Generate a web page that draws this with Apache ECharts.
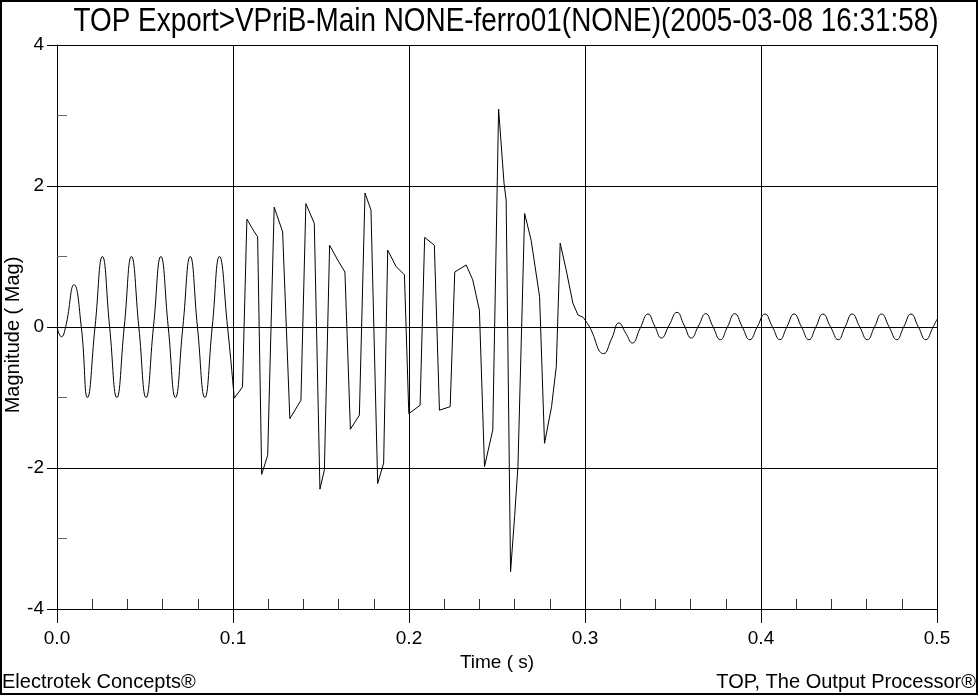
<!DOCTYPE html>
<html>
<head>
<meta charset="utf-8">
<script src="https://cdn.jsdelivr.net/npm/echarts@6/dist/echarts.min.js"></script>
<style>
  html, body { margin: 0; padding: 0; background: #fff; }
  #chart { width: 978px; height: 695px; }
</style>
</head>
<body>
<div id="chart"></div>
<script>
// steady sinusoid before the event
var startTime = [0, 0.0025, 0.0049, 0.0097, 0.0138, 0.0173, 0.0216, 0.0258, 0.0299, 0.034, 0.0382, 0.0423, 0.0465,
  0.0506, 0.0548, 0.059, 0.0632, 0.0673, 0.0715, 0.0757, 0.0798, 0.084, 0.0882, 0.0923, 0.0969, 0.1007];
var startMag = [0, -0.14, 0.0, 0.60, 0.0, -1.0, 0.0, 1.0, 0.0, -1.0, 0.0, 1.0, 0.0,
  -1.0, 0.0, 1.0, 0.0, -1.0, 0.0, 1.0, 0.0, -1.0, 0.0, 1.0, 0.0, -1.01];

// ferroresonance part
var ferroTime = [0.1007, 0.1054, 0.1079, 0.1121, 0.1140, 0.1163, 0.1197, 0.1234, 0.1282, 0.1323, 0.1386, 0.1414,
  0.1462, 0.1494, 0.1519, 0.1549, 0.1595, 0.1636, 0.1667, 0.1718, 0.1750, 0.1784, 0.1822, 0.1856, 0.1879, 0.1926,
  0.1974, 0.1999, 0.2063, 0.2089, 0.2144, 0.2173, 0.2234, 0.2260, 0.2325, 0.2362, 0.2400, 0.2429, 0.2476, 0.2509,
  0.2540, 0.2552, 0.2577, 0.2600, 0.2619, 0.2657, 0.2694, 0.2742, 0.2770, 0.2810, 0.2837, 0.2859, 0.2893, 0.2931,
  0.2960, 0.2988];
var ferroMag = [-1.01, -0.85, 1.53, 1.35, 1.28, -2.09, -1.82, 1.70, 1.35, -1.30, -1.04, 1.75,
  1.47, -2.30, -2.03, 1.16, 0.95, 0.78, -1.45, -1.25, 1.90, 1.66, -2.22, -1.93, 1.09, 0.86,
  0.74, -1.23, -1.11, 1.27, 1.16, -1.18, -1.13, 0.78, 0.88, 0.67, 0.24, -1.98, -1.46, 3.09,
  2.04, 1.80, -3.47, -2.69, -1.98, 1.61, 1.23, 0.43, -1.65, -1.13, -0.56, 1.19, 0.81, 0.34,
  0.17, 0.14];

// decaying tail after the event
var tailTime = [0.2988, 0.3026, 0.3106, 0.3152, 0.3193, 0.3231, 0.3269, 0.3313, 0.3358, 0.3396, 0.3434, 0.3478,
  0.3523, 0.3563, 0.3604, 0.3645, 0.3686, 0.3727, 0.3769, 0.381, 0.3851, 0.3893, 0.3936, 0.3979, 0.4022, 0.4065,
  0.4107, 0.4147, 0.4188, 0.423, 0.4272, 0.4312, 0.4352, 0.4395, 0.4439, 0.4478, 0.4518, 0.4561, 0.4604, 0.4645,
  0.4685, 0.4728, 0.4771, 0.4811, 0.4852, 0.4894, 0.4936, 0.4978, 0.5];
var tailMag = [0.14, 0.0, -0.378, -0.16, 0.057, -0.085, -0.227, -0.02, 0.184, 0.014, -0.156, 0.026,
  0.208, 0.026, -0.156, 0.016, 0.189, 0.005, -0.18, 0.005, 0.189, 0.005, -0.18, 0.002, 0.184, 0.002,
  -0.18, 0.002, 0.184, 0.002, -0.18, 0.002, 0.184, 0.002, -0.18, 0.002, 0.184, 0.002, -0.18, 0.002,
  0.184, 0.002, -0.18, 0.002, 0.184, 0.002, -0.18, 0.002, 0.11];

var titleText = 'TOP Export>VPriB-Main NONE-ferro01(NONE)(2005-03-08 16:31:58)';
var xName = 'Time ( s)';
var yName = 'Magnitude ( Mag)';

function pairs(t, v) {
  var out = [];
  for (var i = 0; i < t.length; i++) out.push([t[i], v[i]]);
  return out;
}

var FONT = '"Liberation Sans", Arial, sans-serif';

var chart = echarts.init(document.getElementById('chart'), null, {renderer: 'canvas'});

var lineSeries = function (data, smooth) {
  return {
    type: 'line',
    data: data,
    showSymbol: false,
    smooth: smooth,
    silent: true,
    lineStyle: {color: '#000', width: 1},
    itemStyle: {color: '#000'}
  };
};

chart.setOption({
  backgroundColor: '#fff',
  animation: false,
  grid: {left: 57, right: 41, top: 45, bottom: 86, outerBoundsMode: 'none'},
  xAxis: [{
    type: 'value',
    min: 0, max: 0.5, interval: 0.1,
    name: xName, nameLocation: 'middle', nameGap: 44,
    nameTextStyle: {color: '#000', fontSize: 19, fontFamily: FONT},
    axisLine: {onZero: false, lineStyle: {color: '#000', width: 1}},
    axisTick: {show: true, length: 14, lineStyle: {color: '#000'}},
    axisLabel: {color: '#000', fontSize: 19, fontFamily: FONT, margin: 20,
      formatter: function (v) { return v.toFixed(1); }},
    splitLine: {show: true, lineStyle: {color: '#000', width: 1}}
  }, {
    type: 'value', position: 'bottom',
    min: 0, max: 0.5, interval: 0.1,
    axisLine: {show: false, onZero: false},
    axisLabel: {show: false},
    splitLine: {show: false},
    axisTick: {show: false, inside: true},
    minorTick: {show: true, splitNumber: 5, length: 10, lineStyle: {color: '#333'}}
  }],
  yAxis: [{
    type: 'value',
    min: -4, max: 4, interval: 2,
    axisLine: {onZero: false, lineStyle: {color: '#000', width: 1}},
    axisTick: {show: true, length: 10, lineStyle: {color: '#000'}},
    axisLabel: {color: '#000', fontSize: 19, fontFamily: FONT, margin: 13},
    splitLine: {show: true, lineStyle: {color: '#000', width: 1}}
  }, {
    type: 'value', position: 'left',
    min: -4, max: 4, interval: 2,
    axisLine: {show: false, onZero: false},
    axisLabel: {show: false},
    splitLine: {show: false},
    axisTick: {show: false, inside: true},
    minorTick: {show: true, splitNumber: 2, length: 10, lineStyle: {color: '#666'}}
  }],
  series: [
    lineSeries(pairs(startTime, startMag), 0.5),
    lineSeries(pairs(ferroTime, ferroMag), false),
    lineSeries(pairs(tailTime, tailMag), 0.5)
  ],
  graphic: [{
    type: 'rect',
    shape: {x: 1, y: 1, width: 976, height: 693},
    style: {fill: null, stroke: '#000', lineWidth: 2},
    silent: true
  }, {
    // narrow title: regular face squeezed horizontally
    type: 'text',
    x: 506, y: 22, scaleX: 0.82,
    style: {text: titleText, font: '34px ' + FONT,
      fill: '#000', textAlign: 'center', textVerticalAlign: 'middle'}
  }, {
    type: 'text',
    x: 13, y: 335, rotation: Math.PI / 2,
    style: {text: yName, font: '20px ' + FONT, fill: '#000',
      textAlign: 'center', textVerticalAlign: 'middle'}
  }, {
    type: 'text',
    x: 2, y: 682,
    style: {text: 'Electrotek Concepts®', font: '20px ' + FONT, fill: '#000',
      textAlign: 'left', textVerticalAlign: 'middle'}
  }, {
    type: 'text',
    x: 976, y: 682,
    style: {text: 'TOP, The Output Processor®', font: '20px ' + FONT, fill: '#000',
      textAlign: 'right', textVerticalAlign: 'middle'}
  }]
});
</script>
</body>
</html>
